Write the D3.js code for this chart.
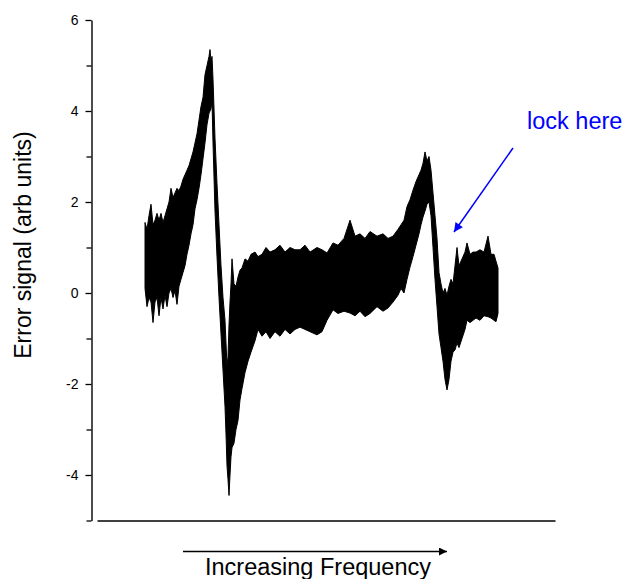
<!DOCTYPE html>
<html>
<head>
<meta charset="utf-8">
<script src="https://cdn.jsdelivr.net/npm/d3@7"></script>
<style>
  body { margin: 0; background: #fff; }
  svg { font-family: "Liberation Sans", Arial, sans-serif; }
</style>
</head>
<body>
<div id="chart"></div>
<script>
// frequency (arbitrary units) and the upper / lower edges of the noisy error trace
var freq = [48,50,52,54,56,58,60,62,64,66,68,70,72,74,76,78,80,82,84,86,88,90,92,94,96,98,100,102,104,106,
  108,110,112,113,114,115,116,118,120,122,124,126,128,129,130,131,132,133,134,135,137,139,141,143,145,148,151,154,158,161,
  165,169,173,178,183,188,193,198,203,208,213,220,225,230,236,241,247,253,258,263,268,273,280,286,291,296,301,304,307,310,
  313,316,319,322,324,326,328,330,332,334,336,338,340,342,344,346,348,350,352,354,356,358,360,362,365,368,370,373,376,379,
  383,387,391,394,397,399,401];

var upper = [1.55,1.4,1.7,1.95,1.5,1.6,1.75,1.6,1.75,1.55,1.7,1.85,2.0,2.3,2.1,2.2,2.3,2.25,2.35,2.5,
  2.6,2.7,2.8,2.95,3.1,3.3,3.5,3.8,4.1,4.3,4.8,5.0,5.2,5.35,5.1,5.2,4.7,3.4,2.4,1.5,
  0.6,-0.1,-0.6,-1.1,-1.6,-1.4,-0.7,-0.2,0.2,0.75,0.2,0.15,0.35,0.5,0.55,0.75,0.7,0.85,0.9,0.8,
  0.85,1.0,0.9,0.95,1.05,0.9,1.0,0.95,0.95,1.05,0.9,1.0,0.95,0.88,1.1,1.05,1.2,1.6,1.25,1.3,
  1.2,1.35,1.25,1.3,1.2,1.25,1.4,1.5,1.6,1.9,2.05,2.26,2.45,2.6,2.7,2.85,3.1,2.9,3.0,2.7,
  2.2,1.7,1.2,0.45,0.2,0.0,0.1,-0.05,0.15,0.3,0.2,0.6,1.0,0.6,0.75,0.9,1.1,0.85,0.9,0.9,
  0.95,0.9,1.25,0.85,0.85,0.7,0.55];

var lower = [0.1,-0.3,-0.1,-0.2,-0.65,-0.2,-0.1,-0.5,-0.1,-0.35,-0.05,-0.3,0.0,0.1,-0.1,0.05,-0.25,0.15,0.3,0.45,
  0.6,0.85,1.05,1.3,1.5,1.85,2.05,2.3,2.6,2.95,3.3,3.7,3.95,4.0,4.05,4.2,3.3,1.8,0.8,-0.1,
  -0.9,-1.7,-2.5,-3.1,-3.8,-4.1,-4.45,-4.0,-3.6,-3.4,-3.3,-3.0,-2.8,-2.35,-2.1,-1.75,-1.5,-1.3,-1.05,-0.8,
  -0.95,-0.85,-1.0,-0.85,-0.95,-0.8,-0.9,-0.8,-0.75,-0.8,-0.85,-0.92,-0.85,-0.6,-0.37,-0.45,-0.4,-0.44,-0.5,-0.4,
  -0.52,-0.45,-0.3,-0.4,-0.33,-0.2,-0.05,0.1,0.0,0.3,0.57,0.8,1.05,1.3,1.5,1.67,1.8,1.95,2.0,1.7,
  1.0,0.3,-0.3,-0.9,-1.2,-1.5,-1.9,-2.13,-1.9,-1.5,-1.3,-1.25,-1.1,-1.2,-1.0,-0.8,-0.6,-0.65,-0.6,-0.55,
  -0.6,-0.5,-0.52,-0.55,-0.6,-0.63,-0.45];

var yTicks = [-5,-4,-3,-2,-1,0,1,2,3,4,5,6];
var yLabel = "Error signal (arb units)";
var xLabel = "Increasing Frequency";
var note = "lock here";

var width = 626, height = 579;

var svg = d3.select("#chart").append("svg")
  .attr("width", width)
  .attr("height", height);

var defs = svg.append("defs");
defs.append("marker")
  .attr("id", "headBlack")
  .attr("viewBox", "0 0 10 10")
  .attr("refX", 10).attr("refY", 5)
  .attr("markerWidth", 12).attr("markerHeight", 8)
  .attr("markerUnits", "userSpaceOnUse")
  .attr("orient", "auto")
  .append("path").attr("d", "M0,0L10,5L0,10Z").attr("fill", "#000");
defs.append("marker")
  .attr("id", "headBlue")
  .attr("viewBox", "0 0 10 10")
  .attr("refX", 10).attr("refY", 5)
  .attr("markerWidth", 12).attr("markerHeight", 9)
  .attr("markerUnits", "userSpaceOnUse")
  .attr("orient", "auto")
  .append("path").attr("d", "M0,0L10,5L0,10Z").attr("fill", "#0000ff");

// scales
var x = d3.scaleLinear().domain([0, 458]).range([97, 555]);
var y = d3.scaleLinear().domain([-5, 6]).range([520.5, 20]);

// y axis, labels on even values only
var yAxis = svg.append("g")
  .attr("transform", "translate(91.5,0)")
  .call(d3.axisLeft(y)
    .tickValues(yTicks)
    .tickSize(6)
    .tickSizeOuter(0)
    .tickPadding(7)
    .tickFormat(function(d) { return d % 2 === 0 ? d : ""; }));
yAxis.select(".domain").attr("stroke-width", 1.4);
yAxis.selectAll(".tick line").attr("stroke-width", 1.3)
  .attr("x2", function(d) { return d % 2 === 0 ? -6 : -5; });
yAxis.selectAll(".tick text")
  .attr("font-size", 14)
  .attr("font-family", "Liberation Sans, Arial, sans-serif")
  .attr("fill", "#000");

// bottom line, no ticks
var xAxis = svg.append("g")
  .attr("transform", "translate(0,520.5)")
  .call(d3.axisBottom(x).tickValues([]).tickSizeOuter(0));
xAxis.select(".domain").attr("stroke-width", 1.4);

// the trace
var trace = freq.map(function(f, i) { return {f: f, hi: upper[i], lo: lower[i]}; });
var area = d3.area()
  .x(function(d) { return x(d.f); })
  .y0(function(d) { return y(d.lo); })
  .y1(function(d) { return y(d.hi); });

svg.append("path")
  .datum(trace)
  .attr("d", area)
  .attr("fill", "#000")
  .attr("stroke", "#000")
  .attr("stroke-width", 1)
  .attr("stroke-linejoin", "miter");

// axis titles
svg.append("text")
  .attr("transform", "translate(31,245) rotate(-90)")
  .attr("text-anchor", "middle")
  .attr("font-size", 23)
  .text(yLabel);

svg.append("line")
  .attr("x1", 183).attr("y1", 551.5)
  .attr("x2", 447).attr("y2", 551.5)
  .attr("stroke", "#000")
  .attr("stroke-width", 1.5)
  .attr("marker-end", "url(#headBlack)");

svg.append("text")
  .attr("x", 318)
  .attr("y", 575)
  .attr("text-anchor", "middle")
  .attr("font-size", 23.5)
  .text(xLabel);

// annotation
svg.append("text")
  .attr("x", 527)
  .attr("y", 129)
  .attr("font-size", 23.5)
  .attr("fill", "#0000ff")
  .text(note);

svg.append("line")
  .attr("x1", 513).attr("y1", 148)
  .attr("x2", 454).attr("y2", 232)
  .attr("stroke", "#0000ff")
  .attr("stroke-width", 1.5)
  .attr("marker-end", "url(#headBlue)");
</script>
</body>
</html>
